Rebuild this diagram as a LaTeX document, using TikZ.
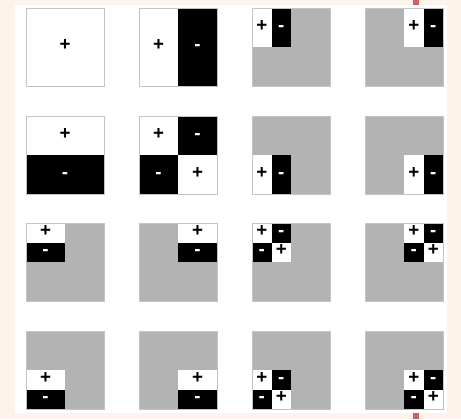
\documentclass[tikz,border=0pt]{standalone}
\usepackage{fontspec}
\newfontfamily\sinal{Liberation Sans}
\usetikzlibrary{positioning}
\definecolor{fundo}{RGB}{253,242,236}
\definecolor{marca}{RGB}{208,96,96}
\definecolor{cinzaf}{RGB}{179,179,179}
\definecolor{bordaq}{RGB}{196,196,196}

\begin{document}
\begin{tikzpicture}[
      x=0.03cm, y=-0.03cm,
      quadro/.style={minimum size=2.34cm, inner sep=0pt, outer sep=0pt, anchor=north west},
      branco/.style={quadro, fill=white},
      cinza/.style={quadro, fill=cinzaf},
      moldura/.style={draw=bordaq, line width=0.7pt},
      celula/.style={inner sep=0pt, outer sep=0pt, text height=0.6em, text depth=0pt, font=\sinal\fontsize{16}{16}\selectfont\bfseries},
      mais/.style={celula, fill=white, text=black},
      menos/.style={celula, fill=black, text=white},
      vert/.style={minimum width=1.17cm, minimum height=2.34cm},
      horiz/.style={minimum width=2.34cm, minimum height=1.17cm},
      quarto/.style={minimum width=1.17cm, minimum height=1.17cm},
      vpeq/.style={minimum width=0.585cm, minimum height=1.17cm},
      hpeq/.style={minimum width=1.17cm, minimum height=0.585cm},
      mini/.style={minimum width=0.585cm, minimum height=0.585cm}
  ]
      % Fundo e moldura
      \useasboundingbox (0,0) rectangle (461,419);
      \fill[fundo] (0,0) rectangle (461,419);
      \fill[white] (15,5) rectangle (447,413);
      \fill[marca] (413,0) rectangle (419,5);
      \fill[marca] (413,413) rectangle (419,419);

      % Linha 1
      \node[branco, celula] (q11) at (26,8) {+};

      \node[branco] (q12) at (139,8) {};
      \node[mais, vert, anchor=north west] (q12a) at (q12.north west) {+};
      \node[menos, vert, right=0pt of q12a] (q12b) {-};

      \node[cinza] (q13) at (252,8) {};
      \node[mais, vpeq, anchor=north west] (q13a) at (q13.north west) {+};
      \node[menos, vpeq, right=0pt of q13a] (q13b) {-};

      \node[cinza] (q14) at (365,8) {};
      \node[menos, vpeq, anchor=north east] (q14b) at (q14.north east) {-};
      \node[mais, vpeq, left=0pt of q14b] (q14a) {+};

      % Linha 2
      \node[branco] (q21) at (26,116) {};
      \node[mais, horiz, anchor=north west] (q21a) at (q21.north west) {+};
      \node[menos, horiz, below=0pt of q21a] (q21b) {-};

      \node[branco] (q22) at (139,116) {};
      \node[mais, quarto, anchor=north west] (q22a) at (q22.north west) {+};
      \node[menos, quarto, right=0pt of q22a] (q22b) {-};
      \node[menos, quarto, below=0pt of q22a] (q22c) {-};
      \node[mais, quarto, right=0pt of q22c] (q22d) {+};

      \node[cinza] (q23) at (252,116) {};
      \node[mais, vpeq, anchor=south west] (q23a) at (q23.south west) {+};
      \node[menos, vpeq, right=0pt of q23a] (q23b) {-};

      \node[cinza] (q24) at (365,116) {};
      \node[menos, vpeq, anchor=south east] (q24b) at (q24.south east) {-};
      \node[mais, vpeq, left=0pt of q24b] (q24a) {+};

      % Linha 3
      \node[cinza] (q31) at (26,223) {};
      \node[mais, hpeq, anchor=north west] (q31a) at (q31.north west) {+};
      \node[menos, hpeq, below=0pt of q31a] (q31b) {-};

      \node[cinza] (q32) at (139,223) {};
      \node[mais, hpeq, anchor=north east] (q32a) at (q32.north east) {+};
      \node[menos, hpeq, below=0pt of q32a] (q32b) {-};

      \node[cinza] (q33) at (252,223) {};
      \node[mais, mini, anchor=north west] (q33a) at (q33.north west) {+};
      \node[menos, mini, right=0pt of q33a] (q33b) {-};
      \node[menos, mini, below=0pt of q33a] (q33c) {-};
      \node[mais, mini, right=0pt of q33c] (q33d) {+};

      \node[cinza] (q34) at (365,223) {};
      \node[menos, mini, anchor=north east] (q34b) at (q34.north east) {-};
      \node[mais, mini, left=0pt of q34b] (q34a) {+};
      \node[menos, mini, below=0pt of q34a] (q34c) {-};
      \node[mais, mini, below=0pt of q34b] (q34d) {+};

      % Linha 4
      \node[cinza] (q41) at (26,331) {};
      \node[menos, hpeq, anchor=south west] (q41b) at (q41.south west) {-};
      \node[mais, hpeq, above=0pt of q41b] (q41a) {+};

      \node[cinza] (q42) at (139,331) {};
      \node[menos, hpeq, anchor=south east] (q42b) at (q42.south east) {-};
      \node[mais, hpeq, above=0pt of q42b] (q42a) {+};

      \node[cinza] (q43) at (252,331) {};
      \node[menos, mini, anchor=south west] (q43c) at (q43.south west) {-};
      \node[mais, mini, right=0pt of q43c] (q43d) {+};
      \node[mais, mini, above=0pt of q43c] (q43a) {+};
      \node[menos, mini, above=0pt of q43d] (q43b) {-};

      \node[cinza] (q44) at (365,331) {};
      \node[mais, mini, anchor=south east] (q44d) at (q44.south east) {+};
      \node[menos, mini, left=0pt of q44d] (q44c) {-};
      \node[menos, mini, above=0pt of q44d] (q44b) {-};
      \node[mais, mini, above=0pt of q44c] (q44a) {+};

      % Contornos por cima
      \foreach \q in {q11,q12,q13,q14,q21,q22,q23,q24,q31,q32,q33,q34,q41,q42,q43,q44}
          \draw[moldura] (\q.north west) rectangle (\q.south east);

  \end{tikzpicture}
\end{document}
